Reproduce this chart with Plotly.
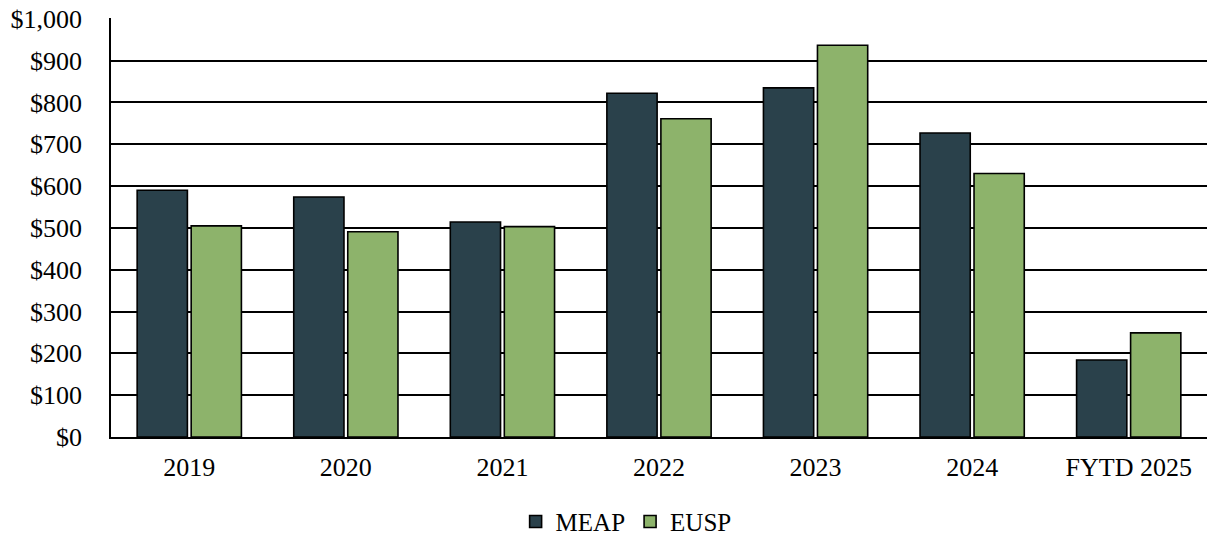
import plotly.graph_objects as go

categories = ["2019", "2020", "2021", "2022", "2023", "2024", "FYTD 2025"]
meap = [590, 574, 514, 822, 835, 727, 184]
eusp = [505, 491, 503, 761, 937, 630, 249]

y_ticks = [0, 100, 200, 300, 400, 500, 600, 700, 800, 900, 1000]
y_tick_labels = ["$0", "$100", "$200", "$300", "$400", "$500", "$600",
                 "$700", "$800", "$900", "$1,000"]

font_family = "Liberation Serif, Times New Roman, serif"

fig = go.Figure()
fig.add_trace(go.Bar(
    name="MEAP", x=categories, y=meap,
    marker=dict(color="#2a414b", line=dict(color="#000000", width=1.6)),
))
fig.add_trace(go.Bar(
    name="EUSP", x=categories, y=eusp,
    marker=dict(color="#8db36b", line=dict(color="#000000", width=1.6)),
))

fig.update_layout(
    width=1207, height=539,
    margin=dict(l=111, r=0, t=18, b=102, autoexpand=False),
    paper_bgcolor="white", plot_bgcolor="white",
    barmode="group", bargap=0.31, bargroupgap=0.07,
    font=dict(family=font_family, size=26, color="#000000"),
    showlegend=True,
    legend=dict(
        orientation="h", x=0.47, xanchor="center",
        yref="container", y=0.032, yanchor="middle",
        font=dict(family=font_family, size=25, color="#000000"),
        itemwidth=30, tracegroupgap=0, traceorder="normal",
    ),
    xaxis=dict(
        showline=True, linecolor="#000000", linewidth=1.6,
        showgrid=False, ticks="", ticklen=0, ticklabelstandoff=6,
        tickfont=dict(family=font_family, size=26, color="#000000"),
    ),
    yaxis=dict(
        range=[0, 1002], tickvals=y_ticks, ticktext=y_tick_labels,
        showline=True, linecolor="#000000", linewidth=1.6,
        showgrid=True, gridcolor="#000000", gridwidth=1.6,
        zeroline=False, ticks="", ticklen=0, ticklabelstandoff=22,
        tickfont=dict(family=font_family, size=26, color="#000000"),
    ),
)

fig.write_html("out.html")
